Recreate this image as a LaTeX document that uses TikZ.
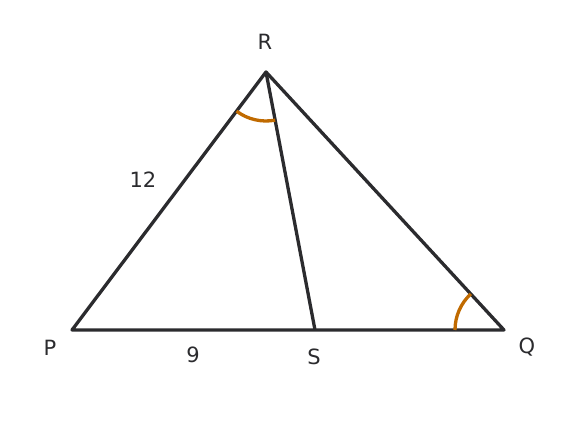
\documentclass[tikz,border=0pt]{standalone}
\usepackage{fontspec}
\setmainfont{DejaVu Sans}
\usetikzlibrary{angles}
\definecolor{edgegray}{HTML}{2B2B2E}
\definecolor{anglecol}{HTML}{C06A00}
\begin{document}
\begin{tikzpicture}[x=1pt,y=1pt,
    side/.style={draw=edgegray, line width=3.3pt, line join=round},
    lbl/.style={text=edgegray, font=\fontsize{21}{24}\selectfont},
    anglemark/.style={draw=anglecol, line width=3.3pt, angle radius=49pt}]
    \useasboundingbox (0,0) rectangle (576,443);
    % vertices
    \coordinate (P) at (72,113);
    \coordinate (Q) at (504,113);
    \coordinate (R) at (266,371);
    \coordinate (S) at (315,113);
    % triangle and cevian
    \draw[side] (P) -- (Q) -- (R) -- cycle;
    \draw[side] (R) -- (S);
    % angle marks
    \pic[anglemark] {angle = P--R--S};
    \pic[anglemark] {angle = R--Q--P};
    % labels
    \node[lbl] (labR) at (265,401) {R};
    \node[lbl] (labP) at (50,95) {P};
    \node[lbl] (labQ) at (527,96) {Q};
    \node[lbl] (labS) at (314,86) {S};
    \node[lbl] (labPS) at (193,88) {9};
    \node[lbl] (labPR) at (143,263) {12};
\end{tikzpicture}
\end{document}
